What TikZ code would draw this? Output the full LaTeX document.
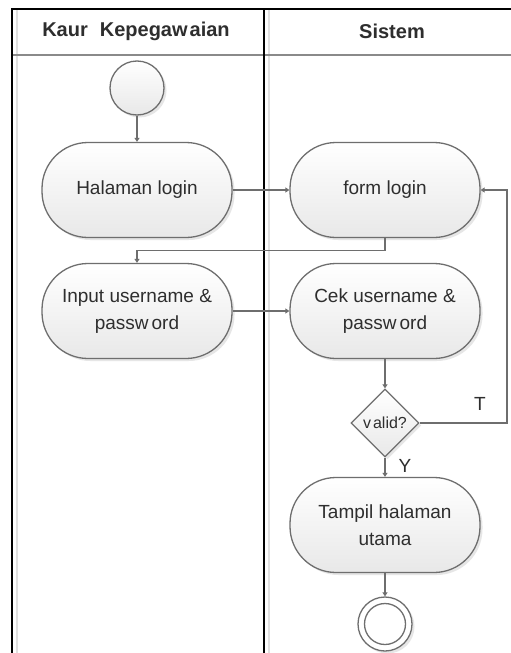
\documentclass[tikz,border=0pt]{standalone}
\usepackage{fontspec}
\setmainfont{Liberation Sans}
\usetikzlibrary{shapes.geometric,arrows.meta,shadows}

\definecolor{edge}{HTML}{6E6E6E}
\definecolor{ink}{HTML}{2E2E2E}
\definecolor{laneshade}{HTML}{E0E0E0}
\definecolor{headrule}{HTML}{8A8A8A}

\begin{document}
\begin{tikzpicture}[x=1pt,y=-1pt,
  every node/.style={text=ink},
  softshadow/.style={drop shadow={shadow xshift=2.5pt,shadow yshift=-2.5pt,fill=black!12,opacity=0.8}},
  activity/.style={draw=edge,line width=1.3pt,rounded corners=46pt,
    minimum width=190pt,minimum height=95pt,inner sep=0pt,
    top color=white,bottom color=black!9,softshadow,
    align=center,font=\fontsize{19}{27}\selectfont},
  startnode/.style={circle,draw=edge,line width=1.3pt,minimum size=54pt,inner sep=0pt,
    top color=white,bottom color=black!9,softshadow},
  endouter/.style={circle,draw=edge,line width=1.3pt,minimum size=54pt,inner sep=0pt,
    fill=white,softshadow},
  endinner/.style={circle,draw=edge,line width=1.3pt,minimum size=41pt,inner sep=0pt},
  decision/.style={diamond,draw=edge,line width=1.3pt,minimum width=68pt,minimum height=68pt,
    inner sep=0pt,top color=white,bottom color=black!9,softshadow,
    font=\fontsize{16}{18}\selectfont},
  flow/.style={draw=edge,line width=1.3pt,-{Triangle[length=4pt,width=5pt]}},
  lanetitle/.style={font=\bfseries\fontsize{20}{22}\selectfont},
  guard/.style={font=\fontsize{19}{22}\selectfont}]

\useasboundingbox (0,0) rectangle (511,653);

% swimlane frame
\fill[white] (0,0) rectangle (511,653);
\draw[laneshade,line width=2pt] (16.5,9) -- (16.5,653);
\draw[laneshade,line width=2pt] (268.5,9) -- (268.5,653);
\draw[headrule,line width=2pt] (12,54.5) -- (511,54.5);
\draw[black,line width=2pt] (12,653) -- (12,9) -- (511,9);
\draw[black,line width=2pt] (264,9) -- (264,653);

\node[lanetitle] (laneA) at (136,31) {Kaur\hspace{0.6em}Kepegaw\kern2pt aian};
\node[lanetitle] (laneB) at (392,31) {Sistem};

% activities
\node[startnode] (start) at (137,88) {};
\node[activity] (halaman) at (137,190) {Halaman login};
\node[activity] (form) at (385,190) {form login};
\node[activity] (input) at (137,311) {Input username \&\\passw\kern3pt ord};
\node[activity] (cek) at (385,311) {Cek username \&\\passw\kern3pt ord};
\node[decision] (valid) at (385,423) {v\kern2pt alid?};
\node[activity] (tampil) at (385,525) {Tampil halaman\\utama};
\node[endouter] (endO) at (385,624) {};
\node[endinner] (endI) at (endO.center) {};

\coordinate (back) at (507,423);

% control flow
\draw[flow] (start) -- (halaman);
\draw[flow] (halaman) -- (form);
\draw[flow] (form.south) -- ++(0,12) -| (input.north);
\draw[flow] (input) -- (cek);
\draw[flow] (cek) -- (valid);
\draw[flow] (valid.east) -- (back) |- (form.east);
\draw[flow] (valid) -- (tampil);
\draw[flow] (tampil) -- (endO);

\node[guard] (lblT) at (480,404) {T};
\node[guard] (lblY) at (405,466) {Y};
\end{tikzpicture}
\end{document}
